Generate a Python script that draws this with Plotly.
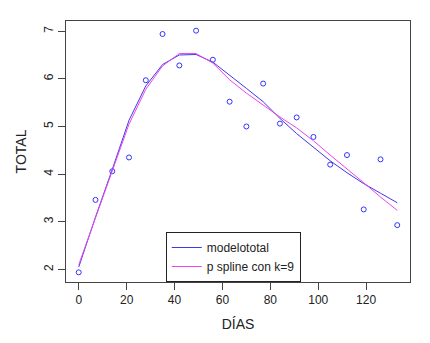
import plotly.graph_objects as go

dias = [0, 7, 14, 21, 28, 35, 42, 49, 56, 63, 70, 77, 84, 91, 98, 105, 112, 119, 126, 133]
total = [1.94, 3.46, 4.06, 4.35, 5.97, 6.94, 6.28, 7.01, 6.40, 5.52, 5.00, 5.90,
         5.06, 5.19, 4.78, 4.20, 4.40, 3.26, 4.31, 2.93]
modelototal = [2.05, 3.10, 4.10, 5.13, 5.85, 6.30, 6.50, 6.51, 6.35, 6.08, 5.80, 5.52,
               5.17, 4.85, 4.56, 4.28, 4.03, 3.80, 3.60, 3.40]
pspline = [2.10, 3.08, 4.05, 5.05, 5.78, 6.27, 6.53, 6.53, 6.33, 5.98, 5.70, 5.45,
           5.20, 4.97, 4.70, 4.40, 4.12, 3.82, 3.52, 3.24]
x_ticks = [0, 20, 40, 60, 80, 100, 120]
y_ticks = [2, 3, 4, 5, 6, 7]

FONT = "Liberation Sans, Arial, sans-serif"

fig = go.Figure()
fig.add_trace(go.Scatter(x=dias, y=total, mode="markers", showlegend=False,
                         marker=dict(symbol="circle-open", size=5, color="#3333ff",
                                     line=dict(width=1, color="#3333ff"))))
fig.add_trace(go.Scatter(x=dias, y=modelototal, mode="lines", name="modelototal",
                         line=dict(color="#3a3ae6", width=1)))
fig.add_trace(go.Scatter(x=dias, y=pspline, mode="lines", name="p spline con k=9",
                         line=dict(color="#ee44ee", width=1)))

xr = [min(dias) - 0.04 * (max(dias) - min(dias)), max(dias) + 0.04 * (max(dias) - min(dias))]
ymin, ymax = min(total), max(total)
yr = [ymin - 0.04 * (ymax - ymin), ymax + 0.04 * (ymax - ymin)]

fig.update_layout(
    width=430, height=343,
    margin=dict(l=55, r=28, t=12, b=69),
    paper_bgcolor="white", plot_bgcolor="white",
    font=dict(family=FONT, size=12, color="#222"),
    legend=dict(x=0.29, y=0, xanchor="left", yanchor="bottom",
                bordercolor="#222", borderwidth=1, bgcolor="white",
                font=dict(size=12), itemwidth=30, tracegroupgap=0),
    xaxis=dict(range=xr, tickvals=x_ticks, ticks="outside", ticklen=7, tickcolor="#444",
               showline=True, mirror=True, linecolor="#444", linewidth=1,
               showgrid=False, zeroline=False,
               title=dict(text="DÍAS", standoff=12)),
    yaxis=dict(range=yr, tickvals=y_ticks, ticks="outside", ticklen=7, tickcolor="#444",
               tickangle=-90,
               showline=True, mirror=True, linecolor="#444", linewidth=1,
               showgrid=False, zeroline=False,
               title=dict(text="TOTAL", standoff=12)),
)

fig.write_html("out.html")
